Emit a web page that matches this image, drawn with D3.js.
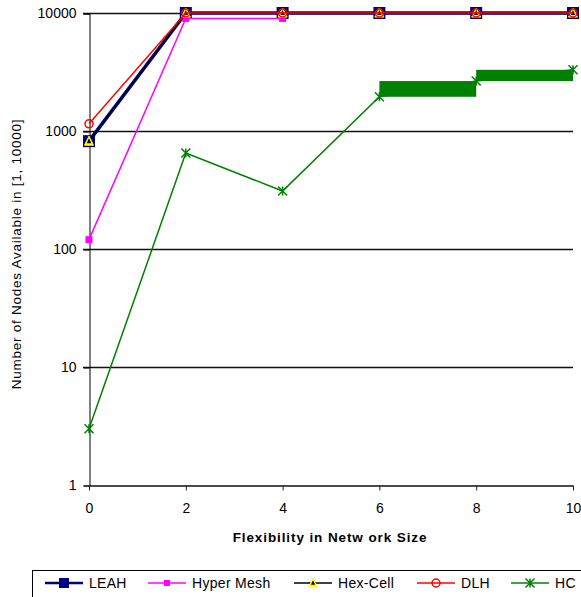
<!DOCTYPE html>
<html><head><meta charset="utf-8">
<script src="https://cdn.jsdelivr.net/npm/d3@7/dist/d3.min.js"></script>
<style>body{margin:0;background:#fff}svg{display:block;font-family:"Liberation Sans",Arial,sans-serif}</style>
</head><body>
<svg id="c" width="581" height="597"></svg>
<script>
const xValues = [0, 2, 4, 6, 8, 10];
const leah = [820, 10000, 10000, 10000, 10000, 10000];
const hyperMesh = [120, 9000, 9000, null, null, null];
const hexCell = [820, 10000, 10000, 10000, 10000, 10000];
const dlh = [1150, 10000, 10000, 10000, 10000, 10000];
const hc = [3, 650, 310, 1950, 2650, 3300];
const hcBandIdx = [3, 4]; // bands spanning from point i to i+1
const yTicks = [1, 10, 100, 1000, 10000];
const xTicks = [0, 2, 4, 6, 8, 10];
const seriesNames = ["LEAH", "Hyper Mesh", "Hex-Cell", "DLH", "HC"];

const svg = d3.select("#c");
const x = d3.scaleLinear().domain([0, 10]).range([89, 573]);
const y = d3.scaleLog().domain([1, 10000]).range([485, 13]);
const F = "Liberation Sans, Arial, sans-serif";

// gridlines
svg.append("g").selectAll("line").data(yTicks.slice(1)).join("line")
  .attr("x1", 83).attr("x2", 573).attr("y1", d => y(d) + 0.5).attr("y2", d => y(d) + 0.5)
  .attr("stroke", "#111").attr("stroke-width", 1.3);

// y axis
const ya = svg.append("g").attr("transform", "translate(89.5,0.5)")
  .call(d3.axisLeft(y).tickValues(yTicks).tickFormat(d3.format("d")).tickSize(6).tickPadding(7));
ya.select(".domain").attr("stroke", "#000");
ya.selectAll("text").attr("font-size", 14).attr("fill", "#000").attr("font-family", F);
ya.selectAll(".tick line").attr("stroke", "#000");

// x axis
const xa = svg.append("g").attr("transform", "translate(0,485.5)")
  .call(d3.axisBottom(x).tickValues(xTicks).tickSize(5).tickSizeOuter(0).tickPadding(13));
xa.select(".domain").attr("stroke", "#111").attr("stroke-width", 1.3);
xa.selectAll("text").attr("font-size", 14).attr("fill", "#000").attr("font-family", F);
xa.selectAll(".tick line").attr("stroke", "#222");

// titles
svg.append("text").attr("x", 330).attr("y", 542).attr("text-anchor", "middle")
  .attr("font-size", 13.5).attr("font-weight", "bold").attr("letter-spacing", 0.9)
  .text("Flexibility in Netw ork Size");
svg.append("text").attr("transform", "translate(21,254) rotate(-90)").attr("text-anchor", "middle")
  .attr("font-size", 13.5).attr("letter-spacing", 0.75)
  .text("Number of Nodes Available in [1, 10000]");

const line = d3.line().defined(d => d[1] != null).x(d => x(d[0])).y(d => y(d[1]));
const pts = arr => xValues.map((v, i) => [v, arr[i]]).filter(d => d[1] != null);

function marker(g, type, cx, cy, s) {
  if (type === "square") {
    g.append("rect").attr("x", cx - s / 2).attr("y", cy - s / 2).attr("width", s).attr("height", s).attr("fill", "#000080");
  } else if (type === "msquare") {
    g.append("rect").attr("x", cx - s / 2).attr("y", cy - s / 2).attr("width", s).attr("height", s).attr("fill", "#ff00ff");
  } else if (type === "tri") {
    const h = s * 0.9;
    g.append("path").attr("d", `M${cx},${cy - h / 2 - 1}L${cx + s / 2},${cy + h / 2}L${cx - s / 2},${cy + h / 2}Z`)
      .attr("fill", "#ffff00").attr("stroke", "#ffff00").attr("stroke-width", 1);
    g.append("path").attr("d", `M${cx},${cy - h / 4 - 1}L${cx + s / 4},${cy + h / 4}L${cx - s / 4},${cy + h / 4}Z`)
      .attr("fill", "#000");
  } else if (type === "circle") {
    g.append("circle").attr("cx", cx).attr("cy", cy).attr("r", s / 2).attr("fill", "none").attr("stroke", "#ff0000").attr("stroke-width", 1.5);
  } else if (type === "star") {
    const r = s / 2;
    g.append("path").attr("d", `M${cx - r},${cy - r}L${cx + r},${cy + r}M${cx - r},${cy + r}L${cx + r},${cy - r}M${cx},${cy - r}L${cx},${cy + r}`)
      .attr("stroke", "#008000").attr("stroke-width", 1.5).attr("fill", "none");
  }
}

const series = [
  { data: leah, color: "#000080", w: 3.5, m: "square", ms: 12, lms: 10 },
  { data: hyperMesh, color: "#ff00ff", w: 1.5, m: "msquare", ms: 7, lms: 6 },
  { data: hexCell, color: "#000000", w: 1.2, m: "tri", ms: 9, lms: 8 },
  { data: dlh, color: "#ff0000", w: 1.5, m: "circle", ms: 8, lms: 8 },
  { data: hc, color: "#008000", w: 1.5, m: "star", ms: 9, lms: 9 }
];

series.forEach((s, si) => {
  const g = svg.append("g");
  if (si === 4) {
    g.selectAll("rect.band").data(hcBandIdx).join("rect").attr("class", "band")
      .attr("x", i => x(xValues[i])).attr("width", i => x(xValues[i + 1]) - x(xValues[i]))
      .attr("y", i => y(hc[i + 1])).attr("height", i => y(hc[i]) - y(hc[i + 1]))
      .attr("fill", "#008000");
  }
  g.append("path").attr("d", line(pts(s.data))).attr("fill", "none").attr("stroke", s.color).attr("stroke-width", s.w);
  pts(s.data).forEach(p => marker(g, s.m, x(p[0]), y(p[1]), s.ms));
});

// legend
const lg = svg.append("g");
lg.append("rect").attr("x", 32.5).attr("y", 570.5).attr("width", 560).attr("height", 40).attr("fill", "none").attr("stroke", "#000");
const lx = [45, 148, 294, 417, 511];
seriesNames.forEach((n, i) => {
  const s = series[i];
  const g = lg.append("g");
  g.append("line").attr("x1", lx[i]).attr("x2", lx[i] + 38).attr("y1", 583).attr("y2", 583).attr("stroke", s.color).attr("stroke-width", i === 0 ? 2.5 : 1.5);
  marker(g, s.m, lx[i] + 19, 583, s.lms);
  g.append("text").attr("x", lx[i] + 44).attr("y", 588).attr("font-size", 14).attr("letter-spacing", 0.3).text(n);
});
</script>
</body></html>
